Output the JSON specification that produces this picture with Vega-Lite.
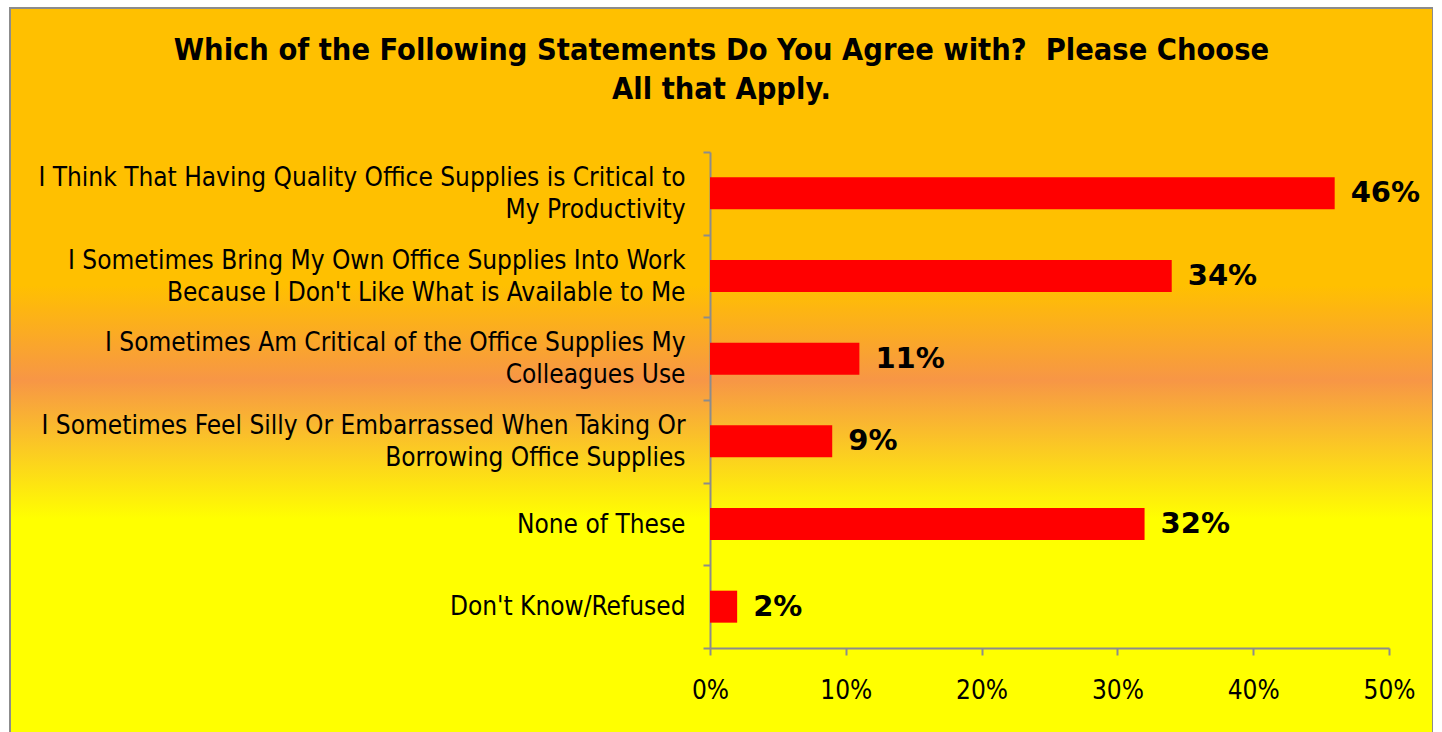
{
  "$schema": "https://vega.github.io/schema/vega-lite/v6.json",
  "autosize": {"type": "none"},
  "padding": {"left": 10, "top": 8, "right": 0, "bottom": 0},
  "width": 1423,
  "height": 730,
  "background": "#ffffff",
  "view": {
    "fill": {
      "gradient": "linear",
      "x1": 0, "y1": 0, "x2": 0, "y2": 1,
      "stops": [
        {"offset": 0, "color": "#FFC000"},
        {"offset": 0.38, "color": "#FFC000"},
        {"offset": 0.51, "color": "#F79646"},
        {"offset": 0.70, "color": "#FFFF00"},
        {"offset": 1, "color": "#FFFF00"}
      ]
    },
    "stroke": "#8c8c8c",
    "strokeWidth": 2
  },
  "title": {
    "text": ["Which of the Following Statements Do You Agree with?\u00a0 Please Choose", "All that Apply."],
    "anchor": "middle",
    "frame": "group",
    "baseline": "top",
    "offset": -110,
    "lineHeight": 39,
    "font": "DejaVu Sans Condensed",
    "fontSize": 30.5,
    "fontWeight": "bold",
    "color": "#000000"
  },
  "data": {
    "values": [
      {"statement": "I Think That Having Quality Office Supplies is Critical to|My Productivity", "share": 0.46},
      {"statement": "I Sometimes Bring My Own Office Supplies Into Work|Because I Don't Like What is Available to Me", "share": 0.34},
      {"statement": "I Sometimes Am Critical of the Office Supplies My|Colleagues Use", "share": 0.11},
      {"statement": "I Sometimes Feel Silly Or Embarrassed When Taking Or|Borrowing Office Supplies", "share": 0.09},
      {"statement": "None of These", "share": 0.32},
      {"statement": "Don't Know/Refused", "share": 0.02}
    ]
  },
  "encoding": {
    "y": {
      "field": "statement",
      "type": "nominal",
      "sort": null,
      "scale": {"range": [144, 640], "paddingInner": 0, "paddingOuter": 0},
      "axis": {
        "title": null,
        "offset": -700,
        "labelExpr": "indexof(datum.label, '|') >= 0 ? [split(datum.label, '|')[0], '\u200b', split(datum.label, '|')[1]] : ['\u200b', datum.label]",
        "labelFont": "DejaVu Sans Condensed",
        "labelFontSize": 26,
        "labelLineHeight": 16,
        "labelColor": "#000000",
        "labelAlign": "right",
        "labelBaseline": "middle",
        "labelOffset": -16,
        "labelPadding": 18,
        "labelLimit": 0,
        "tickBand": "extent",
        "tickSize": 7,
        "tickWidth": 2,
        "tickColor": "#8c8c8c",
        "domainColor": "#8c8c8c",
        "domainWidth": 2,
        "grid": false
      }
    },
    "x": {
      "field": "share",
      "type": "quantitative",
      "scale": {"domain": [0, 0.5], "range": [700, 1379], "nice": false, "zero": true},
      "axis": {
        "title": null,
        "offset": -90,
        "orient": "bottom",
        "values": [0, 0.1, 0.2, 0.3, 0.4, 0.5],
        "format": ".0%",
        "labelFont": "DejaVu Sans Condensed",
        "labelFontSize": 26,
        "labelColor": "#000000",
        "labelPadding": 22,
        "labelFlush": false,
        "tickSize": 7,
        "tickWidth": 2,
        "tickColor": "#8c8c8c",
        "domainColor": "#8c8c8c",
        "domainWidth": 2,
        "grid": false
      }
    }
  },
  "layer": [
    {"mark": {"type": "bar", "color": "#FF0000", "size": 32}},
    {
      "mark": {"type": "text", "align": "left", "baseline": "middle", "dx": 16, "font": "DejaVu Sans", "fontSize": 29, "fontWeight": "bold", "color": "#000000"},
      "encoding": {"text": {"field": "share", "type": "quantitative", "format": ".0%"}}
    }
  ]
}
